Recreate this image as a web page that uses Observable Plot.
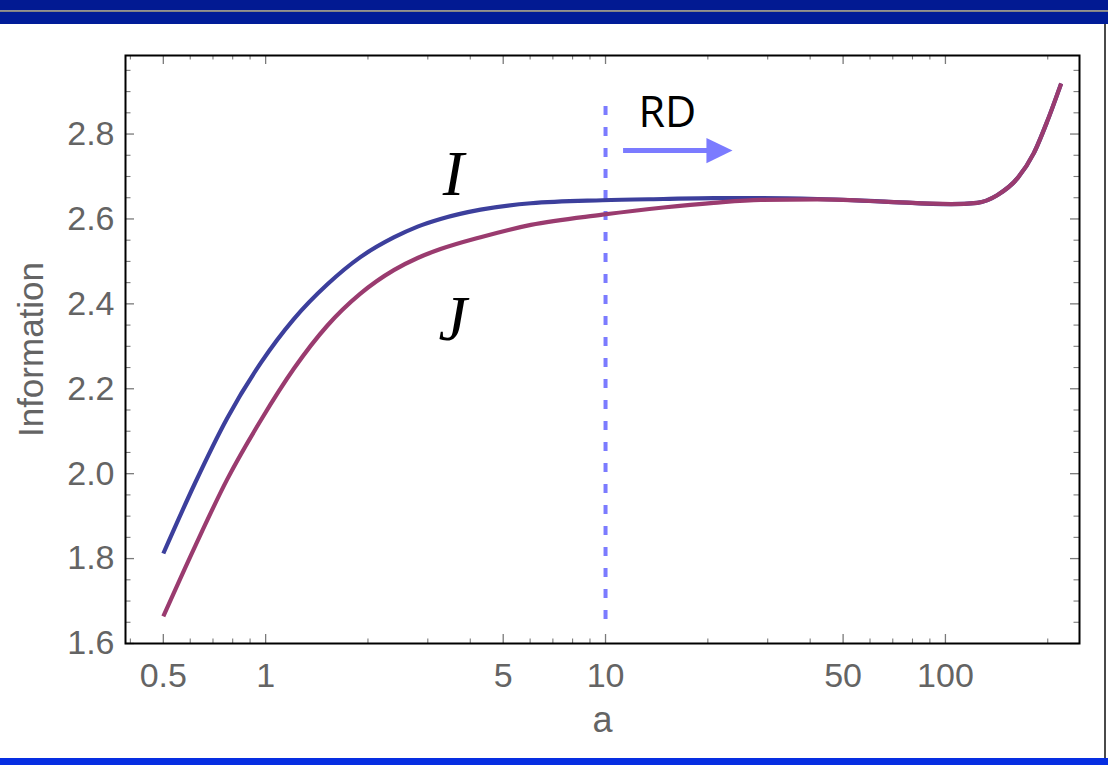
<!DOCTYPE html>
<html>
<head>
<meta charset="utf-8">
<script src="https://cdn.jsdelivr.net/npm/d3@7"></script>
<script src="https://cdn.jsdelivr.net/npm/@observablehq/plot@0.6"></script>
<style>
  html, body { margin: 0; padding: 0; background: #ffffff; overflow: hidden; }
  #slide { position: relative; width: 1108px; height: 765px; background: #ffffff; }
  #topbar {
    position: absolute; left: 0; top: 0; width: 1108px; height: 24px;
    background: linear-gradient(to bottom, #021a92 0px, #021a92 10px, #9a9a9a 10px, #7c7c7c 12px, #001c98 12px, #001c98 24px);
  }
  #bottombar { position: absolute; left: 0; top: 758px; width: 1108px; height: 7px; background: #062ee2; }
  #edge { position: absolute; left: 1104px; top: 24px; width: 2px; height: 734px; background: #4a4a4a; }
  #chart { position: absolute; left: 0; top: 0; }
</style>
</head>
<body>
<div id="slide">
  <div id="chart"></div>
  <div id="topbar"></div>
  <div id="edge"></div>
  <div id="bottombar"></div>
</div>
<script>
// Sample points along the two information curves (a on a log axis)
const aValues = [0.5, 0.62, 0.77, 0.97, 1.21, 1.52, 1.9, 2.39, 2.8, 3.27, 4.29, 6.03, 9.79, 14.8, 20.8, 28.6, 42, 66, 104, 124, 142, 163, 182, 200, 219];
const infoI  = [1.812, 1.978, 2.130, 2.262, 2.364, 2.446, 2.510, 2.557, 2.582, 2.600, 2.622, 2.637, 2.644, 2.647, 2.649, 2.649, 2.647, 2.641, 2.635, 2.638, 2.656, 2.696, 2.755, 2.833, 2.919];
const infoJ  = [1.664, 1.829, 1.986, 2.127, 2.247, 2.349, 2.424, 2.480, 2.508, 2.529, 2.557, 2.586, 2.610, 2.627, 2.638, 2.645, 2.646, 2.641, 2.635, 2.638, 2.656, 2.696, 2.755, 2.833, 2.919];

// Axis ticks
const xMajor = [0.5, 1, 5, 10, 50, 100];
const xMinor = [0.4, 0.6, 0.7, 0.8, 0.9, 2, 3, 4, 6, 7, 8, 9, 20, 30, 40, 60, 70, 80, 90, 200];
const yMajor = [1.6, 1.8, 2.0, 2.2, 2.4, 2.6, 2.8];
const yMinor = [1.65, 1.7, 1.75, 1.85, 1.9, 1.95, 2.05, 2.1, 2.15, 2.25, 2.3, 2.35, 2.45, 2.5, 2.55, 2.65, 2.7, 2.75, 2.85, 2.9, 2.95];

// Annotations: the RD threshold at a = 10 and its arrow, plus curve names
const rdThreshold = [{a: 10, from: 1.63, to: 2.865}];
const rdArrow = [{from: 11.3, to: 21.1, level: 2.761}];
const rdLabel = [{a: 15.2, level: 2.85, text: "RD"}];
const curveLabels = [
  {a: 3.57, level: 2.705, text: "I"},
  {a: 3.55, level: 2.3635, text: "J"}
];

const rowsI = aValues.map((a, i) => ({a, v: infoI[i]}));
const rowsJ = aValues.map((a, i) => ({a, v: infoJ[i]}));

const W = 1108, H = 758;
const mTop = 55, mBottom = 115, mLeft = 125, mRight = 29;
const plotW = W - mLeft - mRight;
const plotH = H - mTop - mBottom;
const major = 9, minor = 4.5;

// Filled triangle pointing right, used for the arrow head
const headRight = {
  draw(ctx, size) {
    const u = Math.sqrt(size / Math.PI);
    ctx.moveTo(1.8 * u, 0);
    ctx.lineTo(-u, -1.35 * u);
    ctx.lineTo(-u, 1.35 * u);
    ctx.closePath();
  }
};

const tickColor = "#7a7a7a";
const labelColor = "#646464";
const rdColor = "#7b7bff";

const chart = Plot.plot({
  width: W,
  height: H,
  marginTop: mTop,
  marginBottom: mBottom,
  marginLeft: mLeft,
  marginRight: mRight,
  style: {fontFamily: "'Liberation Sans', Arial, sans-serif", background: "transparent", overflow: "visible"},
  x: {type: "log", domain: [0.387, 248], axis: null},
  y: {domain: [1.6, 2.985], axis: null},
  marks: [
    // tick marks, drawn inward on all four sides
    Plot.tickX(xMajor, {x: d => d, insetTop: plotH - major, stroke: tickColor, strokeWidth: 1.3}),
    Plot.tickX(xMinor, {x: d => d, insetTop: plotH - minor, stroke: tickColor, strokeWidth: 1.1}),
    Plot.tickX(xMajor, {x: d => d, insetBottom: plotH - major, stroke: tickColor, strokeWidth: 1.3}),
    Plot.tickX(xMinor, {x: d => d, insetBottom: plotH - minor, stroke: tickColor, strokeWidth: 1.1}),
    Plot.tickY(yMajor, {y: d => d, insetRight: plotW - major, stroke: tickColor, strokeWidth: 1.3}),
    Plot.tickY(yMinor, {y: d => d, insetRight: plotW - minor - 1, stroke: tickColor, strokeWidth: 1.1}),
    Plot.tickY(yMajor, {y: d => d, insetLeft: plotW - major, stroke: tickColor, strokeWidth: 1.3}),
    Plot.tickY(yMinor, {y: d => d, insetLeft: plotW - minor - 1, stroke: tickColor, strokeWidth: 1.1}),

    // tick labels
    Plot.text(xMajor, {x: d => d, text: d => String(d), frameAnchor: "bottom", lineAnchor: "top", dy: 19, fontSize: 34, fill: labelColor}),
    Plot.text(yMajor, {y: d => d, text: d3.format(".1f"), frameAnchor: "left", textAnchor: "end", lineAnchor: "middle", dx: -11, fontSize: 34, fill: labelColor}),

    // axis titles
    Plot.text(["a"], {text: d => d, frameAnchor: "bottom", textAnchor: "middle", dy: 88, fontSize: 36, fill: labelColor}),
    Plot.text(["Information"], {text: d => d, frameAnchor: "left", textAnchor: "middle", rotate: -90, dx: -94, fontSize: 35, fill: labelColor}),

    // RD threshold and arrow
    Plot.ruleX(rdThreshold, {x: "a", y1: "to", y2: "from", stroke: rdColor, strokeWidth: 4, strokeDasharray: "9,12"}),
    Plot.ruleY(rdArrow, {y: "level", x1: "from", x2: "to", stroke: rdColor, strokeWidth: 5}),
    Plot.dot(rdArrow, {x: "to", y: "level", symbol: headRight, r: 9.3, fill: rdColor, stroke: null}),
    Plot.text(rdLabel, {x: "a", y: "level", text: "text", fontSize: 43, fontFamily: "'Open Sans', sans-serif", fill: "#000"}),

    // the two curves
    Plot.line(rowsI, {x: "a", y: "v", stroke: "#3c3f9c", strokeWidth: 4.2, curve: "monotone-x", strokeLinecap: "butt"}),
    Plot.line(rowsJ, {x: "a", y: "v", stroke: "#9a3b6f", strokeWidth: 4.2, curve: "monotone-x", strokeLinecap: "butt"}),

    // curve names
    Plot.text(curveLabels, {x: "a", y: "level", text: "text", fontSize: 64, fontStyle: "italic", fontFamily: "'Liberation Serif', 'Times New Roman', serif", fill: "#000"}),

    Plot.frame({stroke: "#000", strokeWidth: 2})
  ]
});

document.getElementById("chart").appendChild(chart);
</script>
</body>
</html>
